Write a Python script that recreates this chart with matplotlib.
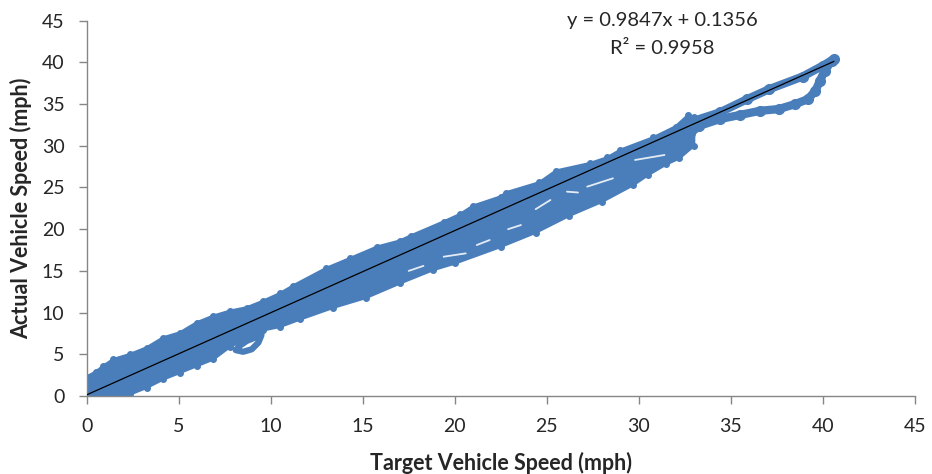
import matplotlib
matplotlib.use("Agg")
import matplotlib.pyplot as plt
import numpy as np

plt.rcParams['font.family'] = ['Lato', 'DejaVu Sans']

# upper edge of the dense band (target mph, actual mph)
upper_x = [0.0, 0.5, 0.9, 1.45, 2.35, 3.26, 4.16, 5.07, 5.98, 6.88, 7.79, 8.7, 9.6, 10.5,
           11.2, 13.0, 14.3, 15.8, 17.0, 17.6, 19.4, 20.3, 21.0, 22.5, 22.8, 24.6, 25.5,
           27.35, 28.3, 29.0, 30.8, 32.0, 32.7, 33.0]
upper_y = [2.3, 2.9, 3.6, 4.4, 5.0, 5.8, 7.0, 7.6, 8.8, 9.6, 10.2, 10.6, 11.4, 12.3,
           13.2, 15.3, 16.5, 17.9, 18.6, 19.2, 20.9, 21.8, 22.8, 23.9, 24.4, 25.6, 27.0,
           27.9, 28.6, 29.5, 31.0, 32.3, 33.7, 33.4]
# lower edge of the dense band
lower_x = [0.0, 1.45, 2.35, 3.26, 4.16, 5.07, 5.98, 6.88, 7.79, 8.7, 9.6, 10.5, 11.6,
           13.4, 15.2, 17.0, 18.8, 20.0, 22.5, 24.4, 26.2, 28.0, 29.7, 30.5, 31.5, 32.2, 33.0]
lower_y = [-0.3, -0.3, 0.2, 1.0, 2.0, 2.8, 3.6, 4.4, 5.9, 6.9, 7.9, 8.3, 9.2,
           10.6, 11.8, 13.5, 15.1, 15.9, 17.9, 19.6, 21.6, 23.3, 25.3, 26.5, 27.8, 28.5, 30.0]

# single strands above x = 33
strand_hi_x = [32.6, 33.0, 34.4, 35.9, 37.1, 38.9, 40.0, 40.6]
strand_hi_y = [32.6, 33.0, 34.0, 35.6, 36.8, 38.3, 39.6, 40.4]
strand_lo_x = [32.8, 33.3, 34.4, 35.5, 36.6, 37.6, 38.5, 39.2, 39.6, 39.85, 40.1, 40.5]
strand_lo_y = [31.5, 32.4, 33.2, 33.7, 34.2, 34.4, 35.0, 35.6, 36.6, 37.8, 39.0, 40.2]

# small loop below the band near 8-9.5 mph
loop_x = [9.5, 9.15, 8.7, 8.3, 8.1, 8.5, 8.97, 9.33, 9.5]
loop_y = [7.6, 7.0, 6.6, 6.0, 5.5, 5.3, 5.6, 6.4, 7.3]

# white gaps between the strands inside the band
gaps = [
    ([19.4, 20.6], [16.7, 17.1]),
    ([21.2, 21.9], [18.1, 18.7]),
    ([22.9, 23.6], [20.0, 20.5]),
    ([24.4, 25.2], [22.4, 23.5]),
    ([26.1, 26.7], [24.5, 24.4]),
    ([27.2, 28.6], [25.1, 26.1]),
    ([29.8, 31.4], [28.3, 28.9]),
    ([17.5, 18.3], [15.0, 15.6]),
]

slope = 0.9847
intercept = 0.1356
r2 = 0.9958
fit_x = [0.0, 40.6]

blue = '#4A7EBB'
text_col = '#262626'

fig = plt.figure(figsize=(9.32, 4.74), dpi=100)
ax = fig.add_axes([0.093, 0.1646, 0.8885, 0.7917])

poly_x = upper_x + lower_x[::-1]
poly_y = upper_y + lower_y[::-1]
ax.fill(poly_x, poly_y, color=blue, lw=2, joinstyle='round', zorder=2)
ax.plot(upper_x, upper_y, 'o', color=blue, ms=4, zorder=2)
ax.plot(lower_x, lower_y, 'o', color=blue, ms=4, zorder=2)
ax.plot(strand_hi_x, strand_hi_y, '-o', color=blue, lw=6, ms=7, zorder=2,
        solid_capstyle='round')
ax.plot(strand_lo_x, strand_lo_y, '-o', color=blue, lw=6, ms=7, zorder=2,
        solid_capstyle='round')
ax.plot(loop_x, loop_y, '-', color=blue, lw=4.5, zorder=2, solid_capstyle='round')
for gx, gy in gaps:
    ax.plot(gx, gy, color='white', lw=1.3, alpha=0.85, solid_capstyle='round', zorder=3)

fx = np.array(fit_x)
ax.plot(fx, slope * fx + intercept, color='black', lw=0.9, zorder=4)

ax.set_xlim(0, 45)
ax.set_ylim(0, 45)
ax.set_xticks(range(0, 46, 5))
ax.set_yticks(range(0, 46, 5))
for s in ['top', 'right']:
    ax.spines[s].set_visible(False)
for s in ['left', 'bottom']:
    ax.spines[s].set_color('#868686')
    ax.spines[s].set_linewidth(1)
ax.tick_params(direction='out', length=6, width=1, color='#868686',
               labelsize=14, labelcolor=text_col, pad=10)

ax.set_xlabel('Target Vehicle Speed (mph)', fontsize=15.5, fontweight='bold',
              color=text_col, labelpad=12)
ax.set_ylabel('Actual Vehicle Speed (mph)', fontsize=15.5, fontweight='bold',
              color=text_col, labelpad=7)

ax.text(0.695, 1.0, f'y = {slope}x + {intercept}', transform=ax.transAxes,
        ha='center', va='center', fontsize=14.5, color=text_col)
ax.text(0.695, 0.927, f'R² = {r2}', transform=ax.transAxes,
        ha='center', va='center', fontsize=14.5, color=text_col)

fig.savefig('out.png', dpi=100)
